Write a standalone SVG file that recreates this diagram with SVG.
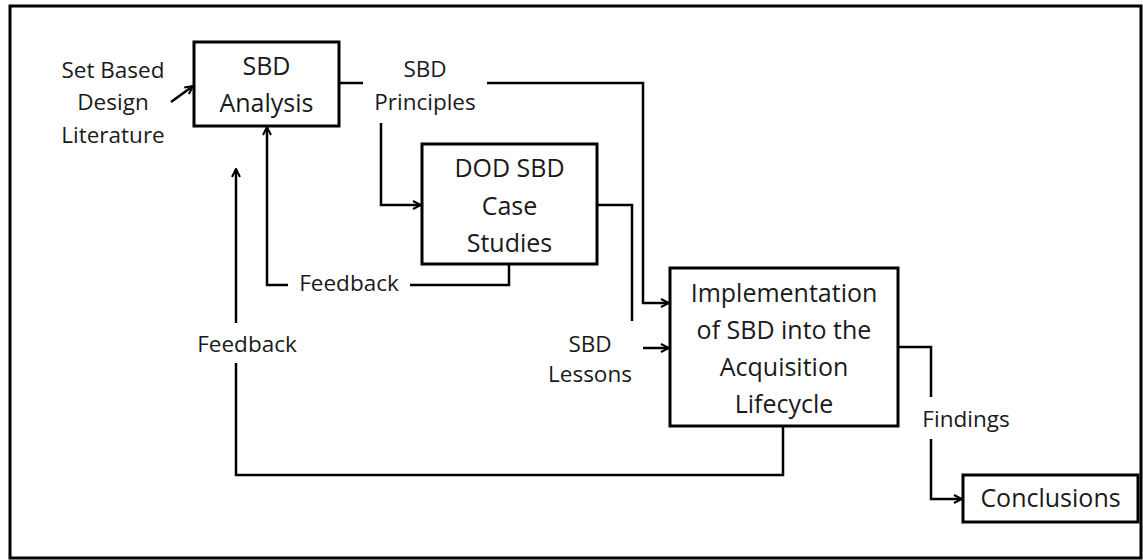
<svg xmlns="http://www.w3.org/2000/svg" width="1143" height="560" viewBox="0 0 1143 560">
<style>
text{font-family:"Open Sans","DejaVu Sans",sans-serif;fill:#1a1a1a;text-anchor:middle}
.box{fill:#fff;stroke:#000;stroke-width:3}
.bt{font-size:25px}
.lb{font-size:22.5px}
.ln{fill:none;stroke:#000;stroke-width:2.5}
.ar{fill:none;stroke:#000;stroke-width:2.5;marker-end:url(#ah)}
</style>
<defs>
<marker id="ah" viewBox="0 0 10 10" refX="9" refY="5" markerWidth="10" markerHeight="10" markerUnits="userSpaceOnUse" orient="auto">
<path d="M1,1 L9,5 L1,9" fill="none" stroke="#000" stroke-width="2"/>
</marker>
</defs>
<rect width="1143" height="560" fill="#fff"/>
<rect id="frame" x="10" y="6" width="1131" height="552" fill="none" stroke="#000" stroke-width="3"/>

<g id="connectors">
<path class="ar" d="M171,102 L193,86"/>
<path class="ln" d="M339,83 L363,83"/>
<path class="ar" d="M487,83 L643,83 L643,303 L669,303"/>
<path class="ar" d="M381,123 L381,205 L421,205"/>
<path class="ln" d="M597,205 L632,205 L632,321"/>
<path class="ar" d="M643,348 L669,348"/>
<path class="ln" d="M509,265 L509,285 L410,285"/>
<path class="ar" d="M288,285 L267,285 L267,127"/>
<path class="ln" d="M783,427 L783,475 L236,475 L236,363"/>
<path class="ar" d="M236,323 L236,169"/>
<path class="ln" d="M898,347 L931,347 L931,397"/>
<path class="ar" d="M931,439 L931,499 L962,499"/>
</g>

<g id="literature">
<text class="lb" x="113" y="78">Set Based</text>
<text class="lb" x="113" y="110">Design</text>
<text class="lb" x="113" y="143">Literature</text>
</g>
<g id="sbd-analysis">
<rect class="box" x="194" y="42" width="145" height="84"/>
<text class="bt" x="266.5" y="75">SBD</text>
<text class="bt" x="266.5" y="112">Analysis</text>
</g>
<g id="sbd-principles">
<text class="lb" x="425" y="77">SBD</text>
<text class="lb" x="425" y="110">Principles</text>
</g>
<g id="dod-case-studies">
<rect class="box" x="422" y="144" width="175" height="120"/>
<text class="bt" x="509.5" y="177">DOD SBD</text>
<text class="bt" x="509.5" y="215">Case</text>
<text class="bt" x="509.5" y="252">Studies</text>
</g>
<g id="feedback-inner">
<text class="lb" x="349" y="291">Feedback</text>
</g>
<g id="feedback-outer">
<text class="lb" x="247" y="352">Feedback</text>
</g>
<g id="sbd-lessons">
<text class="lb" x="590" y="352">SBD</text>
<text class="lb" x="590" y="382">Lessons</text>
</g>
<g id="implementation">
<rect class="box" x="670" y="268" width="228" height="158"/>
<text class="bt" x="784" y="302">Implementation</text>
<text class="bt" x="784" y="339">of SBD into the</text>
<text class="bt" x="784" y="376">Acquisition</text>
<text class="bt" x="784" y="413">Lifecycle</text>
</g>
<g id="findings">
<text class="lb" x="966" y="427">Findings</text>
</g>
<g id="conclusions">
<rect class="box" x="963" y="475" width="175" height="47"/>
<text class="bt" x="1050.5" y="507">Conclusions</text>
</g>
</svg>
